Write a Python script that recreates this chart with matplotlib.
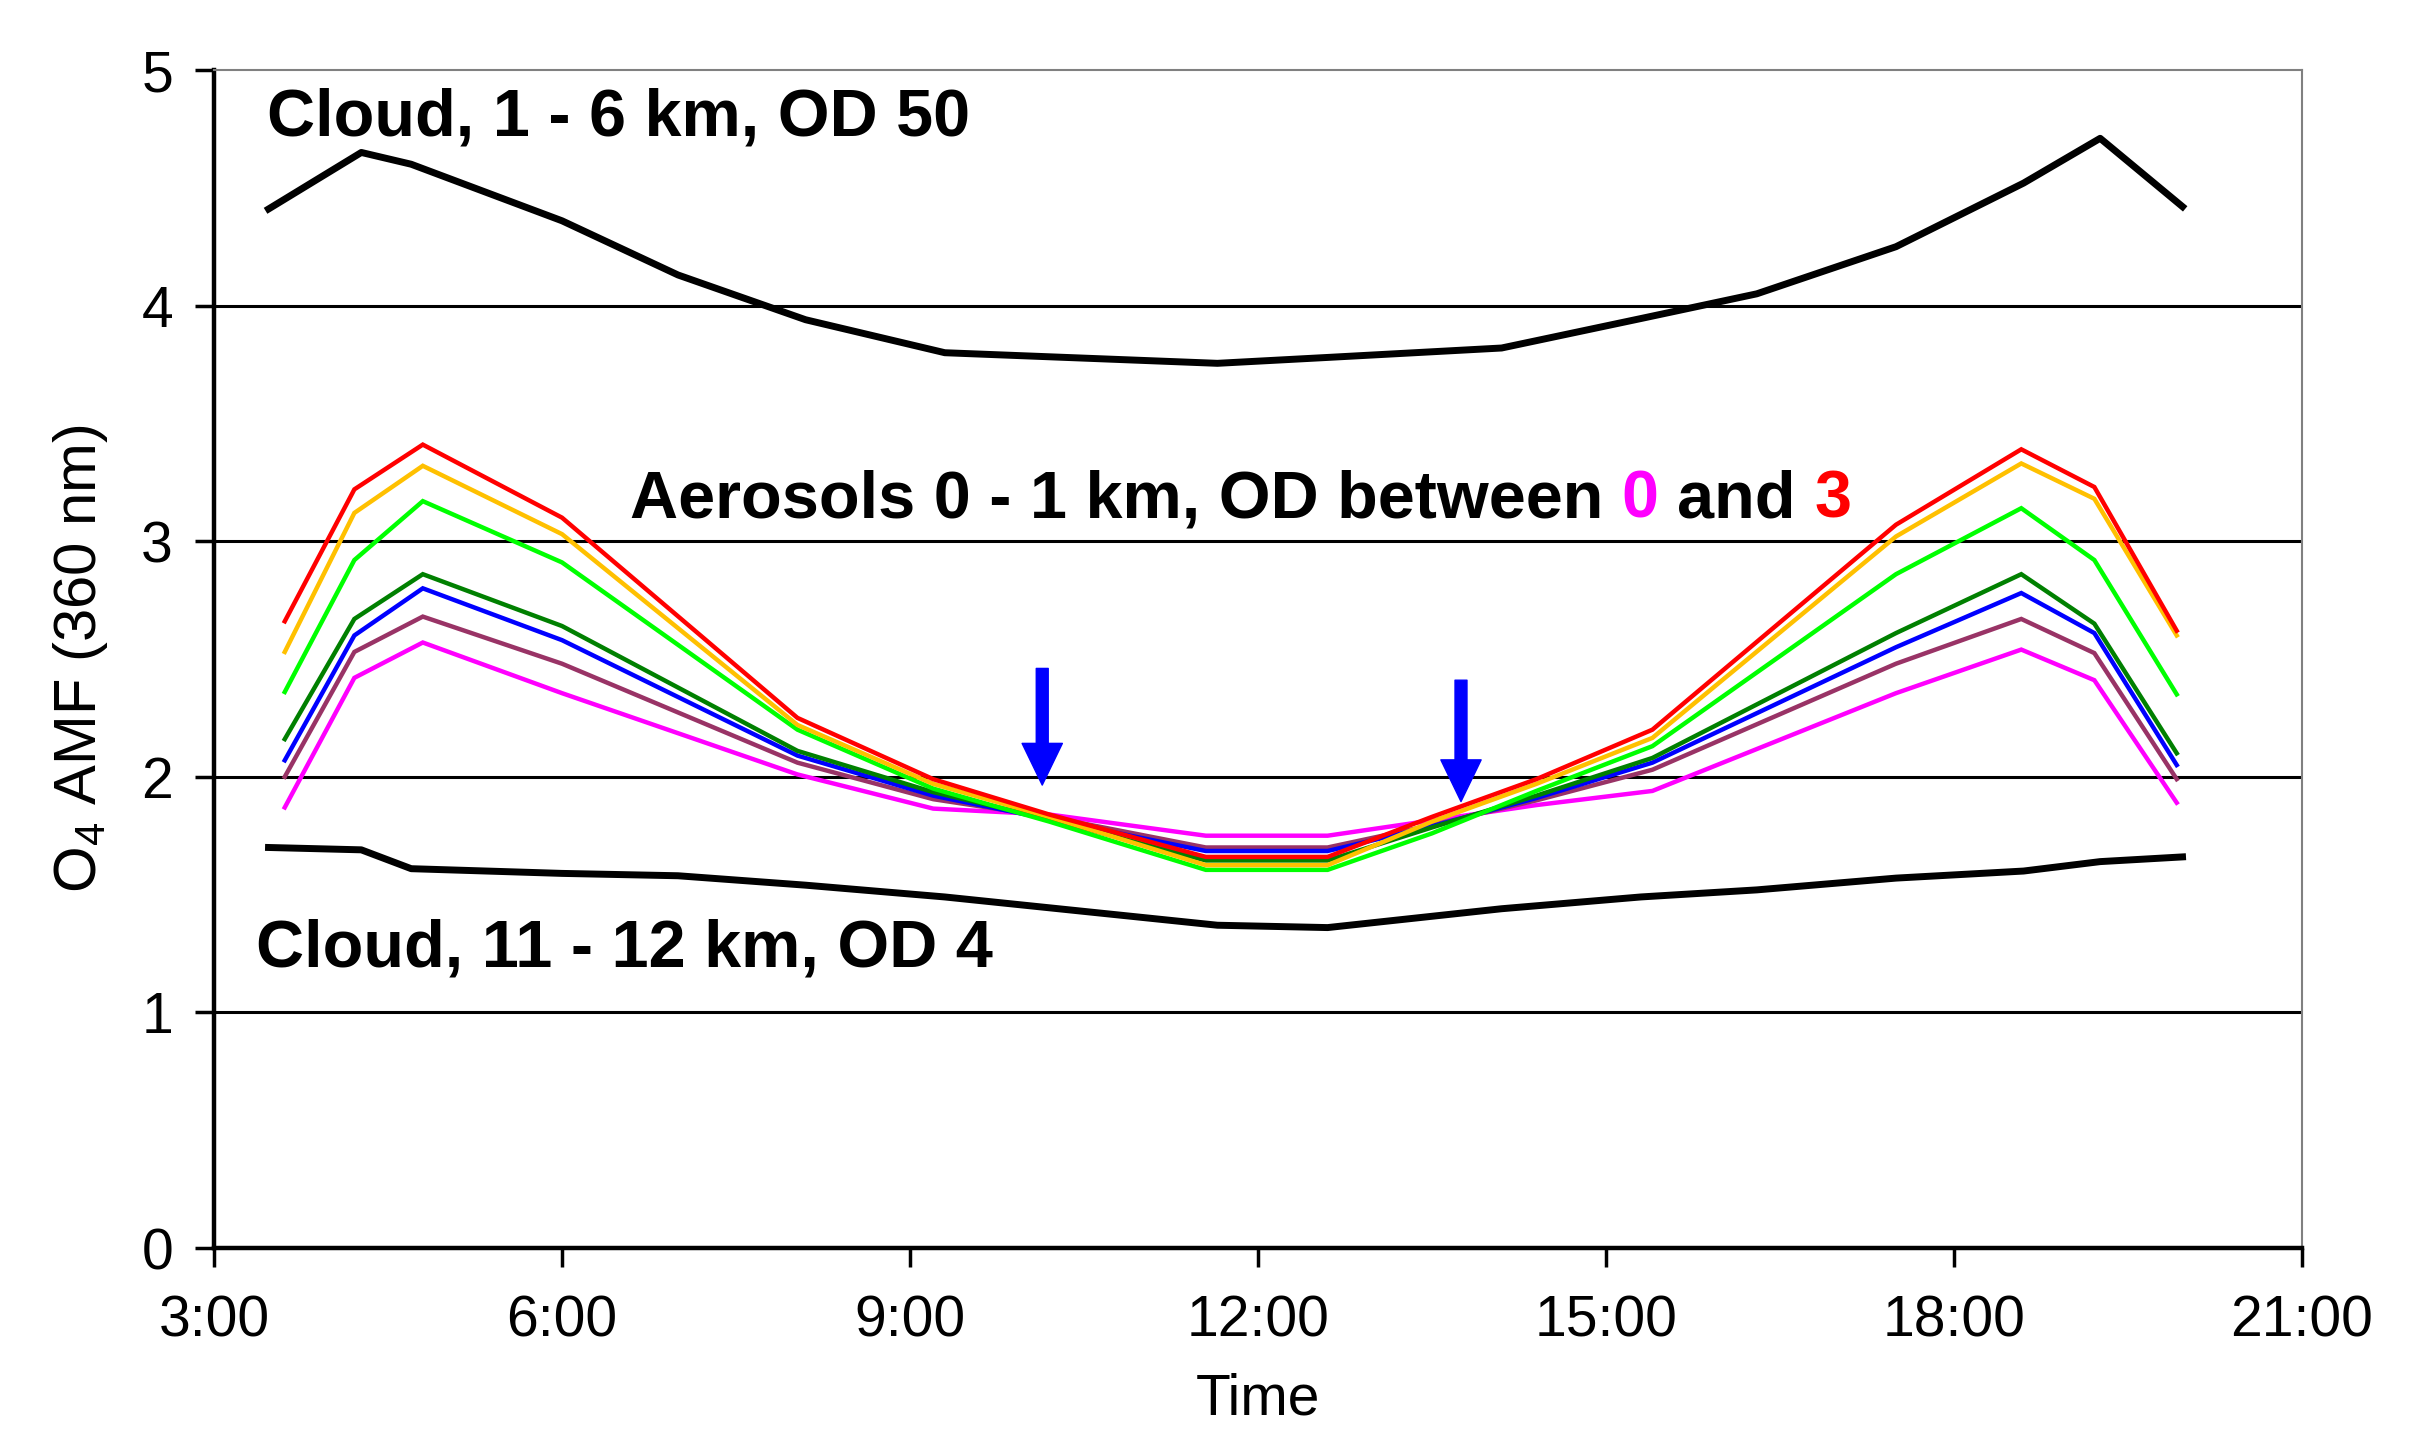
import matplotlib
matplotlib.use("Agg")
import matplotlib.pyplot as plt
from matplotlib.patches import FancyArrowPatch

plt.rcParams['font.family'] = ['Liberation Sans', 'DejaVu Sans']
plt.rcParams['mathtext.fontset'] = 'custom'
plt.rcParams['mathtext.rm'] = 'Liberation Sans'
plt.rcParams['mathtext.default'] = 'regular'

# ---------------- data ----------------
# aerosol simulations (time in decimal hours)
hours_aerosol = [3.61, 4.21, 4.80, 6.00, 8.03, 9.20, 10.20, 11.55, 12.60,
                 13.50, 14.40, 15.40, 17.50, 18.58, 19.21, 19.92]
amf_od_magenta = [1.87, 2.42, 2.57, 2.355, 2.01, 1.865, 1.84, 1.75, 1.75,
                  1.815, 1.88, 1.94, 2.355, 2.54, 2.41, 1.89]
amf_od_purple = [2.00, 2.53, 2.68, 2.48, 2.06, 1.905, 1.83, 1.70, 1.70,
                 1.795, 1.90, 2.03, 2.48, 2.67, 2.525, 1.99]
amf_od_blue = [2.07, 2.60, 2.80, 2.58, 2.09, 1.92, 1.82, 1.685, 1.685,
               1.79, 1.91, 2.06, 2.55, 2.78, 2.61, 2.05]
amf_od_darkgreen = [2.16, 2.67, 2.86, 2.64, 2.11, 1.935, 1.82, 1.645, 1.645,
                    1.785, 1.92, 2.08, 2.61, 2.86, 2.65, 2.10]
amf_od_green = [2.36, 2.92, 3.17, 2.91, 2.20, 1.95, 1.81, 1.605, 1.605,
                1.76, 1.94, 2.13, 2.86, 3.14, 2.92, 2.35]
amf_od_orange = [2.53, 3.12, 3.32, 3.03, 2.22, 1.97, 1.83, 1.625, 1.625,
                 1.81, 1.97, 2.165, 3.02, 3.33, 3.18, 2.60]
amf_od_red = [2.66, 3.22, 3.41, 3.10, 2.25, 1.99, 1.84, 1.66, 1.66,
              1.83, 1.99, 2.20, 3.07, 3.39, 3.23, 2.62]

# cloud simulations
hours_cloud = [3.47, 4.27, 4.70, 6.00, 7.00, 8.10, 9.30, 11.65, 12.60,
               14.10, 15.30, 16.30, 17.50, 18.60, 19.26, 19.97]
amf_cloud_low = [4.41, 4.65, 4.60, 4.36, 4.13, 3.94, 3.80, 3.755, 3.78,
                 3.82, 3.945, 4.05, 4.25, 4.52, 4.71, 4.42]
amf_cloud_high = [1.70, 1.69, 1.61, 1.59, 1.58, 1.54, 1.49, 1.37, 1.36,
                  1.44, 1.49, 1.52, 1.57, 1.60, 1.64, 1.66]

x_ticks = [3, 6, 9, 12, 15, 18, 21]
x_tick_labels = ["3:00", "6:00", "9:00", "12:00", "15:00", "18:00", "21:00"]
y_ticks = [0, 1, 2, 3, 4, 5]
y_tick_labels = ["0", "1", "2", "3", "4", "5"]

arrow_hours = [10.14, 13.75]
arrow_top = [2.46, 2.41]
arrow_tip = [1.965, 1.895]

label_cloud_low = "Cloud, 1 - 6 km, OD 50"
label_cloud_high = "Cloud, 11 - 12 km, OD 4"
label_aerosol_pieces = [("Aerosols 0 - 1 km, OD between", "black"),
                        (" 0", "#FF00FF"),
                        (" and", "black"),
                        (" 3", "#FF0000")]

# ---------------- figure ----------------
W, H = 2436, 1431
fig = plt.figure(figsize=(W / 100, H / 100), dpi=100)
L, R, T, B = 214, 2302, 70, 1248
ax = fig.add_axes([L / W, 1 - B / H, (R - L) / W, (B - T) / H])

ax.set_xlim(3, 21)
ax.set_ylim(0, 5)
ax.set_xticks(x_ticks)
ax.set_xticklabels(x_tick_labels)
ax.set_yticks(y_ticks)
ax.set_yticklabels(y_tick_labels)

ax.yaxis.grid(True, color="black", linewidth=2.2)
ax.set_axisbelow(True)
for gl, v in zip(ax.get_ygridlines(), y_ticks):
    if v in (0, 5):
        gl.set_visible(False)

for s in ("left", "bottom"):
    ax.spines[s].set_color("black")
    ax.spines[s].set_linewidth(3.2)
for s in ("top", "right"):
    ax.spines[s].set_color("#808080")
    ax.spines[s].set_linewidth(1.5)

ax.tick_params(axis="both", direction="out", length=13.5, width=2.5,
               color="black", labelsize=41)
ax.tick_params(axis="y", pad=16)
ax.tick_params(axis="x", pad=20)

series = [
    (amf_od_magenta, "#FF00FF"),
    (amf_od_purple, "#993366"),
    (amf_od_blue, "#0000FF"),
    (amf_od_darkgreen, "#008000"),
    (amf_od_green, "#00FF00"),
    (amf_od_orange, "#FFC000"),
    (amf_od_red, "#FF0000"),
]
for vals, col in series:
    ax.plot(hours_aerosol, vals, color=col, linewidth=3.2,
            solid_joinstyle="miter", zorder=3)

ax.plot(hours_cloud, amf_cloud_low, color="black", linewidth=5.0, zorder=4)
ax.plot(hours_cloud, amf_cloud_high, color="black", linewidth=5.0, zorder=4)

# arrows
for xh, yt, yb in zip(arrow_hours, arrow_top, arrow_tip):
    arr = FancyArrowPatch((xh, yt), (xh, yb),
                          arrowstyle="simple,head_length=30,head_width=29,tail_width=8.6",
                          mutation_scale=1, color="#0000FF", shrinkA=0, shrinkB=0,
                          zorder=5)
    ax.add_patch(arr)

# labels
ax.set_ylabel("O$_4$ AMF (360 nm)", fontsize=43)
ax.yaxis.set_label_coords(-0.050, 0.5)
ax.set_xlabel("Time", fontsize=41)
ax.xaxis.set_label_coords(0.5, -0.106)

txt_kw = dict(fontsize=48, fontweight="bold", va="baseline", zorder=6)
ax.text(3.457, 4.724, label_cloud_low, ha="left", **txt_kw)
ax.text(3.36, 1.195, label_cloud_high, ha="left", **txt_kw)

aer_x, aer_y = 6.586, 3.10
fig.canvas.draw()
renderer = fig.canvas.get_renderer()
cum = ""
for piece, col in label_aerosol_pieces:
    cum += piece
    probe = ax.text(aer_x, aer_y, cum, ha="left", alpha=0, **txt_kw)
    bb = probe.get_window_extent(renderer)
    probe.remove()
    xr = ax.transData.inverted().transform((bb.x1, bb.y0))[0]
    ax.text(xr, aer_y, piece.strip(), ha="right", color=col, **txt_kw)

fig.savefig("out.png", dpi=100, facecolor="white")
